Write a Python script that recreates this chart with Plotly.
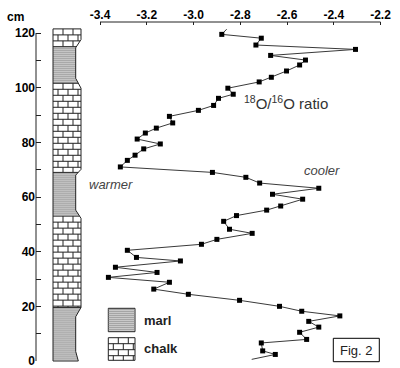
import numpy as np
import plotly.graph_objects as go

# ---------------- data ----------------
depth_cm = [119.5, 118.1, 115.6, 114.0, 111.8, 110.1, 108.3, 106.1, 103.8, 102.1,
            99.8, 97.6, 96.1, 93.5, 91.7, 89.5, 87.1, 85.2, 83.4, 81.2,
            79.4, 77.6, 75.3, 73.4, 71.0, 69.0, 67.2, 65.1, 63.2, 61.0,
            59.2, 56.7, 55.2, 53.2, 51.1, 48.2, 46.7, 44.5, 42.7, 40.5,
            37.9, 36.6, 34.3, 32.4, 30.6, 28.8, 26.3, 24.4, 22.2, 20.0,
            18.2, 16.5, 14.5, 12.4, 10.5, 7.9, 6.6, 3.7, 2.4]
o18_ratio = [-2.879, -2.710, -2.733, -2.307, -2.670, -2.521, -2.546, -2.602, -2.667, -2.719,
             -2.853, -2.830, -2.893, -2.914, -2.979, -3.103, -3.089, -3.159, -3.206, -3.241,
             -3.142, -3.213, -3.250, -3.283, -3.313, -2.919, -2.776, -2.717, -2.464, -2.662,
             -2.533, -2.627, -2.687, -2.816, -2.871, -2.846, -2.749, -2.900, -2.966, -3.283,
             -3.244, -3.056, -3.334, -3.156, -3.364, -3.103, -3.170, -3.022, -2.803, -2.632,
             -2.537, -2.374, -2.507, -2.464, -2.546, -2.516, -2.710, -2.704, -2.650]
# line continues beyond the first/last sample (no marker)
line_top_end = (121.4, -2.858)
line_bottom_end = (0.6, -2.751)

lith_top = [121.5, 115.0, 101.6, 69.0, 53.0, 19.6]
lith_base = [115.0, 101.6, 69.0, 53.0, 19.6, 0.0]
lith_type = ["chalk", "marl", "chalk", "marl", "chalk", "marl"]

x_ticks = [-3.4, -3.2, -3.0, -2.8, -2.6, -2.4, -2.2]
x_tick_labels = ["-3.4", "-3.2", "-3.0", "-2.8", "-2.6", "-2.4", "-2.2"]
y_ticks = [0, 20, 40, 60, 80, 100, 120]
y_tick_labels = ["0", "20", "40", "60", "80", "100", "120"]
y_minor_ticks = [10, 30, 50, 70, 90, 110]

# ---------------- layout geometry (pixels) ----------------
W, H = 400, 368
L, R, T, B = 36, 5, 22, 6
XS = 280.5 / 1.2          # px per ratio unit
YS = 328.0 / 120.0        # px per cm


def X(px):
    return -3.4 + (px - 100.0) / XS


def Y(py):
    return (361.0 - py) / YS


def PY(d):
    return 361.0 - d * YS


def paper_x(px):
    return (px - L) / (W - L - R)


def paper_y(py):
    return (H - B - py) / (H - T - B)


FONT = "Liberation Sans"

# column outline: right edge profile (depth, px)
prof_d = [0.0, 3.5, 16.2, 19.6, 52.2, 55.2, 68.0, 70.1, 99.8, 103.4, 114.6, 117.6, 121.5]
prof_px = [78.3, 75.7, 75.7, 81, 81, 75.7, 75.7, 81, 81, 75.7, 75.7, 81, 81]
COL_LEFT = 53.0


def col_right(py):
    return float(np.interp(Y(py), prof_d, prof_px))


def pattern_segments(kind, xl, right_fn, pyt, pyb):
    """return list of px segments ((x0,y0),(x1,y1))"""
    segs = []
    if kind == "marl":
        y = pyt + 1.5
        while y < pyb - 0.5:
            segs.append(((xl, y), (right_fn(y), y)))
            y += 2.0
    else:
        rows = []
        y = pyt
        while y < pyb - 0.5:
            rows.append((y, min(y + 6.0, pyb)))
            y += 6.0
        for i, (a, b) in enumerate(rows):
            if b < pyb - 0.5:
                segs.append(((xl, b), (right_fn(b), b)))
            xr = min(right_fn(a), right_fn(b))
            x = xl + (10.0 if i % 2 == 0 else 5.0)
            while x < xr - 1.5:
                segs.append(((x, a), (x, b)))
                x += 10.0
    return segs


def segs_to_xy(segs):
    xs, ys = [], []
    for (x0, y0), (x1, y1) in segs:
        xs += [X(x0), X(x1), None]
        ys += [Y(y0), Y(y1), None]
    return xs, ys


fig = go.Figure()

# ---------------- lithology column ----------------
for top, base, kind in zip(lith_top, lith_base, lith_type):
    pyt, pyb = PY(top), PY(base)
    inner = [(d, p) for d, p in zip(prof_d, prof_px) if base < d < top]
    right_pts = [(base, float(np.interp(base, prof_d, prof_px)))] + inner + \
                [(top, float(np.interp(top, prof_d, prof_px)))]
    xs = [X(COL_LEFT), X(COL_LEFT)] + [X(p) for d, p in right_pts] + [X(COL_LEFT)]
    ys = [top, base] + [d for d, p in right_pts] + [top]
    fig.add_trace(go.Scatter(x=xs, y=ys, mode="lines", fill="toself",
                             fillcolor="#e4e4e4" if kind == "marl" else "white",
                             line=dict(width=0), hoverinfo="skip", showlegend=False))
    segs = pattern_segments(kind, COL_LEFT, col_right, pyt, pyb)
    sx, sy = segs_to_xy(segs)
    fig.add_trace(go.Scatter(x=sx, y=sy, mode="lines",
                             line=dict(color="#8a8a8a" if kind == "marl" else "#222", width=1),
                             hoverinfo="skip", showlegend=False))

# boundaries between layers
bx, by = [], []
for b in lith_base[:-1]:
    bx += [X(COL_LEFT), X(float(np.interp(b, prof_d, prof_px))), None]
    by += [b, b, None]
fig.add_trace(go.Scatter(x=bx, y=by, mode="lines", line=dict(color="#222", width=1),
                         hoverinfo="skip", showlegend=False))

# outline
ox = [X(COL_LEFT)] + [X(p) for p in prof_px[::-1]] + [X(COL_LEFT), X(COL_LEFT)]
oy = [prof_d[-1]] + prof_d[::-1] + [0.0, prof_d[-1]]
fig.add_trace(go.Scatter(x=ox, y=oy, mode="lines", line=dict(color="#222", width=1),
                         hoverinfo="skip", showlegend=False))

# ---------------- legend swatches ----------------
for kind, (x0, x1, y0, y1) in [("marl", (108.3, 135.0, 308.3, 331.7)),
                               ("chalk", (108.3, 135.0, 337.7, 360.3))]:
    fig.add_trace(go.Scatter(x=[X(x0), X(x1), X(x1), X(x0), X(x0)],
                             y=[Y(y0), Y(y0), Y(y1), Y(y1), Y(y0)], mode="lines",
                             fill="toself", fillcolor="#e4e4e4" if kind == "marl" else "white",
                             line=dict(color="#222", width=1), hoverinfo="skip", showlegend=False))
    segs = pattern_segments(kind, x0, lambda py, x1=x1: x1, y0, y1)
    sx, sy = segs_to_xy(segs)
    fig.add_trace(go.Scatter(x=sx, y=sy, mode="lines",
                             line=dict(color="#8a8a8a" if kind == "marl" else "#222", width=1),
                             hoverinfo="skip", showlegend=False))

# ---------------- isotope curve ----------------
line_d = [line_top_end[0]] + depth_cm + [line_bottom_end[0]]
line_r = [line_top_end[1]] + o18_ratio + [line_bottom_end[1]]
fig.add_trace(go.Scatter(x=line_r, y=line_d, mode="lines",
                         line=dict(color="#3a3a3a", width=1), hoverinfo="skip", showlegend=False))
fig.add_trace(go.Scatter(x=o18_ratio, y=depth_cm, mode="markers",
                         marker=dict(symbol="square", size=5, color="black",
                                     line=dict(width=0)),
                         showlegend=False))

# ---------------- axes ----------------
fig.update_layout(
    width=W, height=H, margin=dict(l=L, r=R, t=T, b=B, autoexpand=False),
    paper_bgcolor="white", plot_bgcolor="white",
    xaxis=dict(range=[X(L), X(W - R)], side="top", tickmode="array", automargin=False,
               tickvals=x_ticks, ticktext=x_tick_labels, ticks="inside", ticklen=3,
               tickcolor="#222", tickwidth=1, showline=False, showgrid=False, zeroline=False,
               ticklabeloverflow="allow",
               tickfont=dict(family=FONT, size=12, color="black", weight="bold")),
    yaxis=dict(range=[Y(H - B), Y(T)], tickmode="array", tickvals=y_ticks, automargin=False,
               ticktext=y_tick_labels, ticks="inside", ticklen=5, tickcolor="#222",
               tickwidth=1, showline=False, showgrid=False, zeroline=False,
               ticklabeloverflow="allow",
               minor=dict(tickmode="array", tickvals=y_minor_ticks, ticks="inside",
                          ticklen=5, tickcolor="#222", tickwidth=1, showgrid=False),
               tickfont=dict(family=FONT, size=12, color="black", weight="bold")),
    font=dict(family=FONT),
)

# axis lines
fig.add_shape(type="line", xref="x", yref="paper", x0=-3.4, x1=-2.2, y0=1, y1=1,
              line=dict(color="#222", width=1))
fig.add_shape(type="line", xref="paper", yref="y", x0=0, x1=0, y0=0, y1=120,
              line=dict(color="#222", width=1))

# Fig. 2 box
fig.add_shape(type="rect", xref="paper", yref="paper",
              x0=paper_x(333.3), x1=paper_x(379.3), y0=paper_y(361.7), y1=paper_y(338.3),
              line=dict(color="black", width=1), fillcolor="white")


# ---------------- texts ----------------
def txt(s, px, py, size, xanchor="left", color="black", bold=False, italic=False):
    fig.add_annotation(text=s, x=paper_x(px), y=paper_y(py), xref="paper", yref="paper",
                       xanchor=xanchor, yanchor="middle", showarrow=False,
                       font=dict(family=FONT, size=size, color=color,
                                 weight="bold" if bold else "normal",
                                 style="italic" if italic else "normal"))


txt("cm", 15.5, 17, 12, xanchor="center", bold=True)
txt("<sup>18</sup>O/<sup>16</sup>O ratio", 242, 102, 15, color="#333")
txt("cooler", 302, 170.5, 13, color="#444", italic=True)
txt("warmer", 87, 184, 13, color="#444", italic=True)
txt("marl", 142, 320, 13, bold=True, color="#222")
txt("chalk", 142, 348.5, 13, bold=True, color="#222")
txt("Fig. 2", 356.3, 350, 13, xanchor="center", color="#222")

fig.write_html("out.html", config={"displayModeBar": False},
               post_script="document.body.style.margin='0px';document.body.style.overflow='hidden';")
